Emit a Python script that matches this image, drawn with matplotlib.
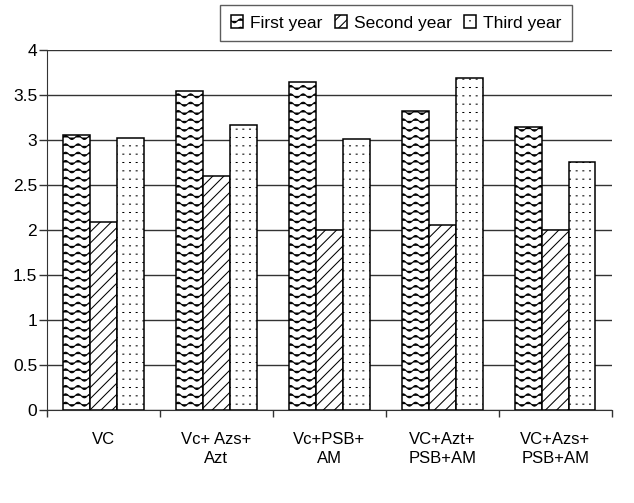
import warnings

import matplotlib
matplotlib.use("Agg")
from matplotlib import pyplot as plt
from matplotlib import hatch as mhatch
from matplotlib.path import Path
import numpy as np

warnings.filterwarnings("ignore")

categories = ["VC", "Vc+ Azs+\nAzt", "Vc+PSB+\nAM", "VC+Azt+\nPSB+AM", "VC+Azs+\nPSB+AM"]
first_year = [3.06, 3.55, 3.65, 3.32, 3.15]
second_year = [2.09, 2.60, 2.00, 2.06, 2.00]
third_year = [3.03, 3.17, 3.01, 3.69, 2.76]
series_names = ["First year", "Second year", "Third year"]
yticks = [0, 0.5, 1, 1.5, 2, 2.5, 3, 3.5, 4]


class WaveHatch(mhatch.HatchPatternBase):
    """Rows of sine waves: 8 periods x 12 rows per tile for each '~'."""

    def __init__(self, hatch, density):
        n = hatch.count("~")
        self.num_rows = 12 * n
        self.periods = 8
        self.samples = 8 * 12 + 1
        self.num_vertices = self.num_rows * self.samples

    def set_vertices_and_codes(self, vertices, codes):
        t = np.linspace(0.0, 1.0, self.samples)
        amp = 0.24 / max(self.num_rows, 1)
        for i in range(self.num_rows):
            y0 = (i + 0.5) / self.num_rows
            sl = slice(i * self.samples, (i + 1) * self.samples)
            vertices[sl, 0] = t
            vertices[sl, 1] = y0 + amp * np.sin(2 * np.pi * self.periods * t)
            codes[sl] = Path.LINETO
            codes[i * self.samples] = Path.MOVETO


class DotHatch(mhatch.HatchPatternBase):
    """Square grid of tiny dots, drawn as very short strokes."""

    def __init__(self, hatch, density):
        n = hatch.count(":")
        self.cols = 15 * n
        self.rows = 12 * n
        self.num_vertices = self.cols * self.rows * 2

    def set_vertices_and_codes(self, vertices, codes):
        k = 0
        for r in range(self.rows):
            y = (r + 0.5) / self.rows
            for c in range(self.cols):
                x = (c + 0.5) / self.cols
                vertices[k] = (x - 0.005, y)
                vertices[k + 1] = (x + 0.005, y)
                codes[k] = Path.MOVETO
                codes[k + 1] = Path.LINETO
                k += 2


mhatch._hatch_types.extend([WaveHatch, DotHatch])

plt.rcParams["font.family"] = ["Liberation Sans", "DejaVu Sans"]
plt.rcParams["hatch.linewidth"] = 0.75

fig = plt.figure(figsize=(6.34, 5.03), dpi=100)
ax = fig.add_axes([0.074, 0.185, 0.891, 0.715])

x = np.arange(len(categories))
w = 0.237
hatches = ["~", "///", ":"]
for i, (vals, name) in enumerate(zip([first_year, second_year, third_year], series_names)):
    ax.bar(x + (i - 1) * w, vals, w, facecolor="white", edgecolor="black",
           linewidth=1.1, hatch=hatches[i], label=name, zorder=3)

ax.set_xlim(-0.5, len(categories) - 0.5)
ax.set_ylim(0, 4)
ax.set_yticks(yticks)
ax.set_yticklabels(["0", "0.5", "1", "1.5", "2", "2.5", "3", "3.5", "4"])
ax.yaxis.grid(True, color="#333333", linewidth=1.0, zorder=0)
ax.set_axisbelow(True)

ax.set_xticks(x)
ax.set_xticklabels(categories, linespacing=1.3)
ax.tick_params(axis="x", which="major", length=0, pad=16, labelsize=12)
ax.set_xticks(np.arange(-0.5, len(categories), 1.0), minor=True)
ax.tick_params(axis="x", which="minor", length=5, width=1, color="#333333")
ax.tick_params(axis="y", length=6, width=1, color="#333333", labelsize=12.5, pad=1)

ax.spines[["top", "right"]].set_visible(False)
ax.spines[["left", "bottom"]].set_color("#333333")

leg = ax.legend(loc="lower center", bbox_to_anchor=(0.618, 1.026), ncol=3,
                frameon=True, fancybox=False, edgecolor="#333333",
                fontsize=12.5, handlelength=0.7, handleheight=0.7,
                handletextpad=0.4, columnspacing=0.7, borderpad=0.6,
                borderaxespad=0)
leg.get_frame().set_linewidth(1.0)

fig.savefig("out.png", dpi=100)
